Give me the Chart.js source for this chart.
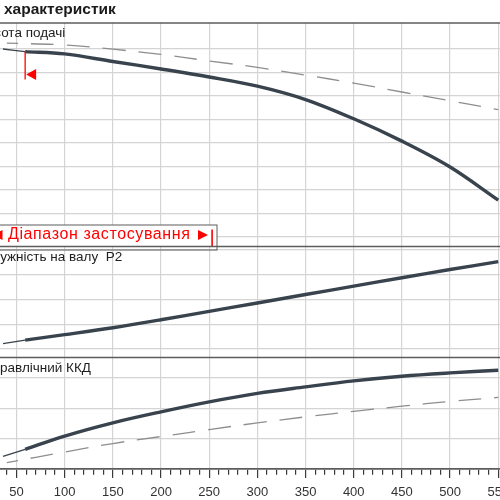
<!DOCTYPE html>
<html>
<head>
<meta charset="utf-8">
<script src="https://cdn.jsdelivr.net/npm/chart.js@4.4.1/dist/chart.umd.min.js"></script>
<style>
  html, body { margin: 0; padding: 0; background: #fff; }
  #wrap { width: 500px; height: 500px; }
</style>
</head>
<body>
<div id="wrap"><canvas id="chart"></canvas></div>
<script>
// flow values (x)
const flowOut = [36, 59];
const flowIn = [59, 100, 150, 200, 250, 300, 350, 400, 450, 500, 550];
const flowDash = [40, 100, 150, 200, 250, 300, 350, 400, 450, 500, 550];

// head
const headOut = [9.0, 8.89];
const headIn = [8.89, 8.79, 8.47, 8.15, 7.81, 7.42, 6.85, 6.03, 5.08, 3.98, 2.57];
const headDash = [9.25, 9.17, 8.99, 8.77, 8.49, 8.22, 7.89, 7.55, 7.17, 6.8, 6.42];

// shaft power P2
const powerOut = [1.22, 1.36];
const powerIn = [1.36, 1.58, 1.86, 2.18, 2.52, 2.86, 3.2, 3.54, 3.88, 4.21, 4.53];

// hydraulic efficiency, %
const effOut = [4.15, 6.48];
const effIn = [6.48, 10.86, 15.23, 18.85, 22.14, 24.95, 27.07, 29.05, 30.59, 31.68, 32.57];
const effDash = [2.1, 5.6, 8.4, 10.7, 13.0, 15.2, 17.2, 19.0, 20.7, 22.3, 23.6];

// ticks / grid
const xMajor = [50, 100, 150, 200, 250, 300, 350, 400, 450, 500, 550];
const headGrid = [1, 2, 3, 4, 5, 6, 7, 8, 9];
const powerGrid = [1, 2, 3, 4, 5];
const effGrid = [10, 20, 30];

const rangeStart = 59;

const xTicks = [];
for (let v = 40; v <= 550; v += 10) xTicks.push(v);
const isMajor = v => xMajor.includes(v);

const font = '"Liberation Sans", Arial, sans-serif';
const solid = '#39434d';
const dashCol = '#8e8e8e';
const gridCol = '#d4d4d4';
const frameCol = '#5c5c5c';

const pts = (xs, ys) => xs.map((x, i) => ({ x: x, y: ys[i] }));

function line(data, axis, width, dashed) {
  return {
    data: data,
    yAxisID: axis,
    borderColor: dashed ? dashCol : solid,
    borderWidth: width,
    borderDash: dashed ? [23, 13] : [],
    borderDashOffset: dashed ? 12 : 0,
    pointRadius: 0,
    tension: 0.35,
    fill: false
  };
}

function yAxis(min, max, grid, weight, order) {
  return {
    type: 'linear',
    position: 'left',
    stack: 'panels',
    stackWeight: weight,
    weight: order,
    min: min,
    max: max,
    ticks: { display: false },
    border: { display: false },
    grid: { color: gridCol, lineWidth: 1.2, drawTicks: false },
    afterBuildTicks: s => { s.ticks = grid.map(v => ({ value: v })); },
    afterFit: s => { s.width = 0; s.paddingTop = 0; s.paddingBottom = 0; }
  };
}

const decor = {
  id: 'decor',
  afterDatasetsDraw(chart) {
    const ctx = chart.ctx;
    const x = chart.scales.x.getPixelForValue(rangeStart);
    const y = chart.scales.yHead.getPixelForValue(headIn[0]);
    ctx.save();
    ctx.strokeStyle = '#ff0000';
    ctx.fillStyle = '#ff0000';
    ctx.lineWidth = 1.3;
    ctx.beginPath();
    ctx.moveTo(x, y);
    ctx.lineTo(x, y + 28);
    ctx.stroke();
    ctx.beginPath();
    ctx.moveTo(x + 1, y + 23);
    ctx.lineTo(x + 11, y + 17.5);
    ctx.lineTo(x + 11, y + 28.5);
    ctx.closePath();
    ctx.fill();
    ctx.restore();
  },
  afterDraw(chart) {
    const ctx = chart.ctx;
    const { yHead, yPower, yEff } = chart.scales;
    const area = chart.chartArea;
    ctx.save();

    // range box
    const bb = yHead.bottom;
    ctx.fillStyle = '#fff';
    ctx.fillRect(-5, bb - 21.5, 222, 21.5);
    ctx.strokeStyle = frameCol;
    ctx.lineWidth = 1;
    ctx.strokeRect(-5, bb - 21.5, 222, 25);
    ctx.fillStyle = '#ff0000';
    ctx.font = '16px ' + font;
    ctx.letterSpacing = '0.6px';
    ctx.textBaseline = 'alphabetic';
    ctx.textAlign = 'left';
    ctx.fillText('Діапазон застосування', 8, bb - 7.5);
    ctx.letterSpacing = '0px';
    ctx.beginPath();
    ctx.moveTo(-7.5, bb - 11.5);
    ctx.lineTo(2.5, bb - 16.5);
    ctx.lineTo(2.5, bb - 6.5);
    ctx.closePath();
    ctx.fill();
    ctx.beginPath();
    ctx.moveTo(208, bb - 11.5);
    ctx.lineTo(198, bb - 16.5);
    ctx.lineTo(198, bb - 6.5);
    ctx.closePath();
    ctx.fill();
    ctx.fillRect(211.3, bb - 17, 1.6, 17);

    // panel frames
    ctx.strokeStyle = frameCol;
    ctx.lineWidth = 1.7;
    [yHead.top, yHead.bottom, yPower.bottom].forEach(v => {
      ctx.beginPath();
      ctx.moveTo(area.left, v);
      ctx.lineTo(area.right, v);
      ctx.stroke();
    });

    // panel labels
    ctx.fillStyle = '#1e1e1e';
    ctx.font = '13.5px ' + font;
    const labels = [
      ['Висота подачі', 'Вис', yHead, 1],
      ['Потужність на валу  P2', 'Пот', yPower, 0],
      ['Гідравлічний ККД', 'Гід', yEff, 0]
    ];
    labels.forEach(([txt, cut, sc, dx]) => {
      ctx.fillText(txt, dx - ctx.measureText(cut).width, sc.top + 14);
    });

    // title
    ctx.fillStyle = '#1a1a1a';
    ctx.font = 'bold 15.5px ' + font;
    ctx.fillText('характеристик', 4, 14);
    ctx.restore();
  }
};

new Chart(document.getElementById('chart'), {
  type: 'line',
  data: {
    datasets: [
      line(pts(flowDash, headDash), 'yHead', 1.3, true),
      line(pts(flowOut, headOut), 'yHead', 1.3, false),
      line(pts(flowIn, headIn), 'yHead', 3.4, false),
      line(pts(flowOut, powerOut), 'yPower', 1.3, false),
      line(pts(flowIn, powerIn), 'yPower', 3.4, false),
      line(pts(flowDash, effDash), 'yEff', 1.3, true),
      line(pts(flowOut, effOut), 'yEff', 1.3, false),
      line(pts(flowIn, effIn), 'yEff', 3.4, false)
    ]
  },
  options: {
    responsive: true,
    maintainAspectRatio: false,
    animation: false,
    layout: { padding: { top: 23, left: 0, right: 0, bottom: 0 } },
    plugins: { legend: { display: false }, tooltip: { enabled: false } },
    scales: {
      x: {
        type: 'linear',
        min: 32.9,
        max: 551.8,
        afterBuildTicks: s => { s.ticks = xTicks.map(v => ({ value: v })); },
        afterFit: s => { s.height = 31; s.paddingLeft = 0; s.paddingRight = 0; },
        border: { display: true, color: frameCol, width: 1.7 },
        grid: {
          color: c => (c.tick && isMajor(c.tick.value)) ? gridCol : 'rgba(0,0,0,0)',
          lineWidth: 1.2,
          tickColor: '#3a3a3a',
          tickWidth: 1.2,
          tickLength: 9,
          tickBorderDash: c => (c.tick && isMajor(c.tick.value)) ? [] : [5, 20]
        },
        ticks: {
          autoSkip: false,
          maxRotation: 0,
          padding: 7,
          color: '#333',
          font: { size: 13, family: font },
          callback: v => isMajor(v) ? v : ''
        }
      },
      yEff: yAxis(0, 36.76, effGrid, 111.5, 1),
      yPower: yAxis(0.657, 5.141, powerGrid, 111, 2),
      yHead: yAxis(0.596, 10.106, headGrid, 223.5, 3)
    }
  },
  plugins: [decor]
});
</script>
</body>
</html>
